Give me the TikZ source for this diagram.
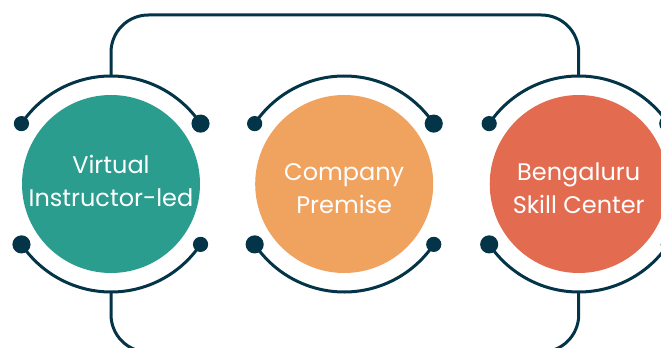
\documentclass[tikz,border=0pt]{standalone}
\usepackage{fontspec}
\setmainfont{Poppins}
\usetikzlibrary{positioning, calc}
\definecolor{navy}{HTML}{033448}
\definecolor{tealc}{HTML}{2A9D8F}
\definecolor{sandc}{HTML}{F0A25F}
\definecolor{brickc}{HTML}{E36C50}

\tikzset{
  hub/.style={circle, minimum size=133.5pt, inner sep=0pt},
  caption/.style={text=white, align=center, inner sep=0pt,
    font=\fontsize{18}{25}\selectfont},
  ring/.style={navy, line width=2.25pt},
  link/.style={navy, line width=2.25pt, rounded corners=28pt}
}

\begin{document}
\begin{tikzpicture}[x=0.75pt, y=0.75pt]
  \useasboundingbox (0,0) rectangle (661,347);

  \node[hub, fill=tealc] (virtual) at (111,163) {};
  \node[hub, fill=sandc, right=41pt of virtual] (company) {};
  \node[hub, fill=brickc, right=42pt of company] (bengaluru) {};

  \node[caption] (virtual-txt) at ([yshift=2.5pt]virtual.center) {Virtual\\Instructor-led};
  \node[caption] (company-txt) at ([yshift=-3.4pt]company.center) {Company\\Premise};
  \node[caption] (bengaluru-txt) at ([yshift=-3.4pt]bengaluru.center) {Bengaluru\\Skill Center};

  \foreach \n in {virtual, company, bengaluru} {
    \draw[ring] ([shift={(34:81pt)}]\n.center) arc[start angle=34, end angle=146, radius=81pt];
    \draw[ring] ([shift={(214:81pt)}]\n.center) arc[start angle=214, end angle=326, radius=81pt];
    \fill[navy] ([shift={(146:81pt)}]\n.center) circle (5.7pt);
    \fill[navy] ([shift={(34:81pt)}]\n.center) circle (6.8pt);
    \fill[navy] ([shift={(214:81pt)}]\n.center) circle (6.8pt);
    \fill[navy] ([shift={(326:81pt)}]\n.center) circle (5.7pt);
    \coordinate (\n-top) at ([yshift=81pt]\n.center);
    \coordinate (\n-bot) at ([yshift=-81pt]\n.center);
  }

  % loop from the first hub round to the last one
  \draw[link] (virtual-top) -- (virtual-top |- 0,332) -- (bengaluru-top |- 0,332) -- (bengaluru-top);
  \draw[link] (virtual-bot) -- (virtual-bot |- 0,-5) -- (bengaluru-bot |- 0,-5) -- (bengaluru-bot);
\end{tikzpicture}
\end{document}
